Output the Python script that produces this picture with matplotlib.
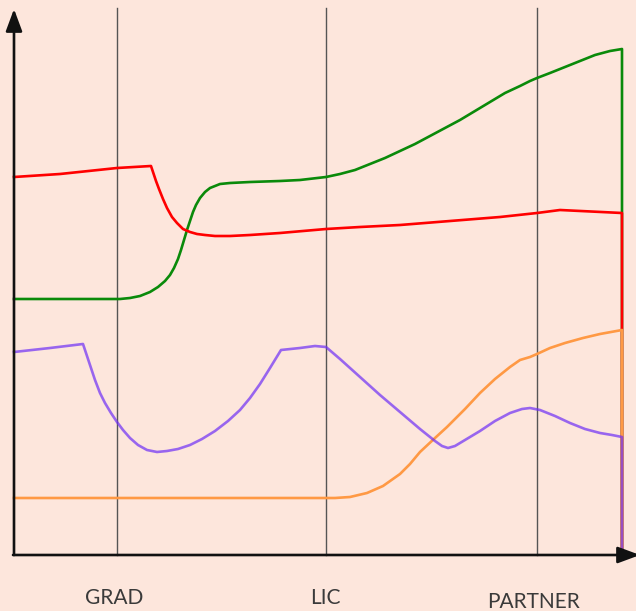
import matplotlib
matplotlib.use("Agg")
import matplotlib.pyplot as plt
import matplotlib.transforms as mtransforms

# Stage positions (x) and labels
stage_x = [117, 326, 537]
stage_labels = ["GRAD", "LIC", "PARTNER"]

# Series: x positions and heights above the axis
green_x = [14, 120, 130, 140, 150, 158, 165, 170, 174, 178, 181, 184, 187, 190, 193, 196, 200, 205, 210,
           215, 220, 230, 250, 280, 300, 326, 340, 355, 370, 385, 400, 415, 430, 445, 460, 475, 490,
           505, 520, 530, 537, 550, 565, 580, 595, 610, 622, 622]
green_y = [256, 256, 257, 259, 263, 268, 274, 280, 287, 296, 305, 315, 325, 334, 343, 350, 357, 363, 367,
           369, 371, 372, 373, 374, 375, 378, 381, 385, 391, 397, 404, 411, 419, 427, 435, 444, 453,
           462, 469, 474, 477, 482, 488, 494, 500, 504, 506, 0]

red_x = [14, 60, 117, 151, 153, 156, 159, 163, 167, 172, 177, 183, 190, 197, 205, 215, 230, 250, 280,
         326, 360, 400, 450, 500, 537, 560, 622, 622]
red_y = [378, 381, 387, 389, 383, 374, 366, 356, 347, 338, 332, 326, 323, 321, 320, 319, 319, 320, 322,
         326, 328, 330, 334, 338, 342, 345, 342, 0]

purple_x = [14, 50, 83, 87, 91, 95, 100, 105, 111, 117, 123, 130, 138, 147, 157, 167, 178, 190, 202,
            215, 228, 240, 250, 260, 270, 281, 300, 315, 326, 340, 360, 380, 400, 420, 435, 442, 448,
            455, 465, 480, 495, 510, 522, 530, 540, 555, 570, 585, 600, 612, 622, 622]
purple_y = [203, 207, 211, 199, 187, 175, 162, 152, 142, 133, 125, 117, 110, 105, 103, 104, 106, 110, 116,
            124, 134, 145, 157, 171, 187, 205, 207, 209, 208, 196, 178, 160, 143, 126, 114, 109, 107,
            109, 115, 124, 134, 142, 146, 147, 145, 139, 132, 126, 122, 120, 118, 0]

orange_x = [14, 117, 326, 335, 350, 367, 383, 400, 410, 420, 435, 447, 465, 480, 495, 510, 520, 530,
            537, 550, 565, 583, 600, 622, 622]
orange_y = [57, 57, 57, 57, 58, 62, 69, 81, 91, 103, 117, 128, 146, 162, 176, 188, 195, 198,
            201, 207, 212, 217, 221, 225, 0]

bg = "#fde6dc"
fig = plt.figure(figsize=(6.36, 6.11), dpi=100, facecolor=bg)
ax = fig.add_axes([14 / 636, 56 / 611, 622 / 636, 547 / 611])
ax.set_facecolor(bg)
ax.set_xlim(14, 636)
ax.set_ylim(0, 547)

for x in stage_x:
    ax.plot([x, x], [0, 547], color="#555555", lw=1.0, zorder=1, clip_on=False)

lw = 1.9
kw = dict(lw=lw, clip_on=False, solid_joinstyle="round")
ax.plot(green_x, green_y, color="#0a8a0a", zorder=3, **kw)
ax.plot(red_x, red_y, color="#ff0000", zorder=4, **kw)
ax.plot(orange_x, orange_y, color="#ff9944", zorder=5, **kw)
ax.plot(purple_x, purple_y, color="#6e2ff6", alpha=0.7, zorder=6, **kw)

for s in ax.spines.values():
    s.set_visible(False)

arrow = dict(arrowstyle="-|>,head_length=1.35,head_width=0.5", color="#111111",
             lw=1.9, mutation_scale=10, shrinkA=0, shrinkB=0)
ax.annotate("", xy=(14, 546), xytext=(14, 0), xycoords="data", arrowprops=arrow,
            annotation_clip=False, zorder=7)
ax.annotate("", xy=(640, 0), xytext=(13, 0), xycoords="data", arrowprops=arrow,
            annotation_clip=False, zorder=7)

ax.set_xticks([])
ax.set_yticks([])

# labels under each stage line
label_dx = [-3, -1, -3.5]
label_py = [597.5, 597.5, 602]
trans = mtransforms.blended_transform_factory(ax.transData, fig.transFigure)
for x, lab, dx, py in zip(stage_x, stage_labels, label_dx, label_py):
    ax.text(x + dx, 1 - py / 611, lab, transform=trans, ha="center", va="center",
            family=["Lato", "DejaVu Sans"], fontsize=15, color="#3a3a3a")

fig.savefig("out.png", dpi=100, facecolor=bg)
